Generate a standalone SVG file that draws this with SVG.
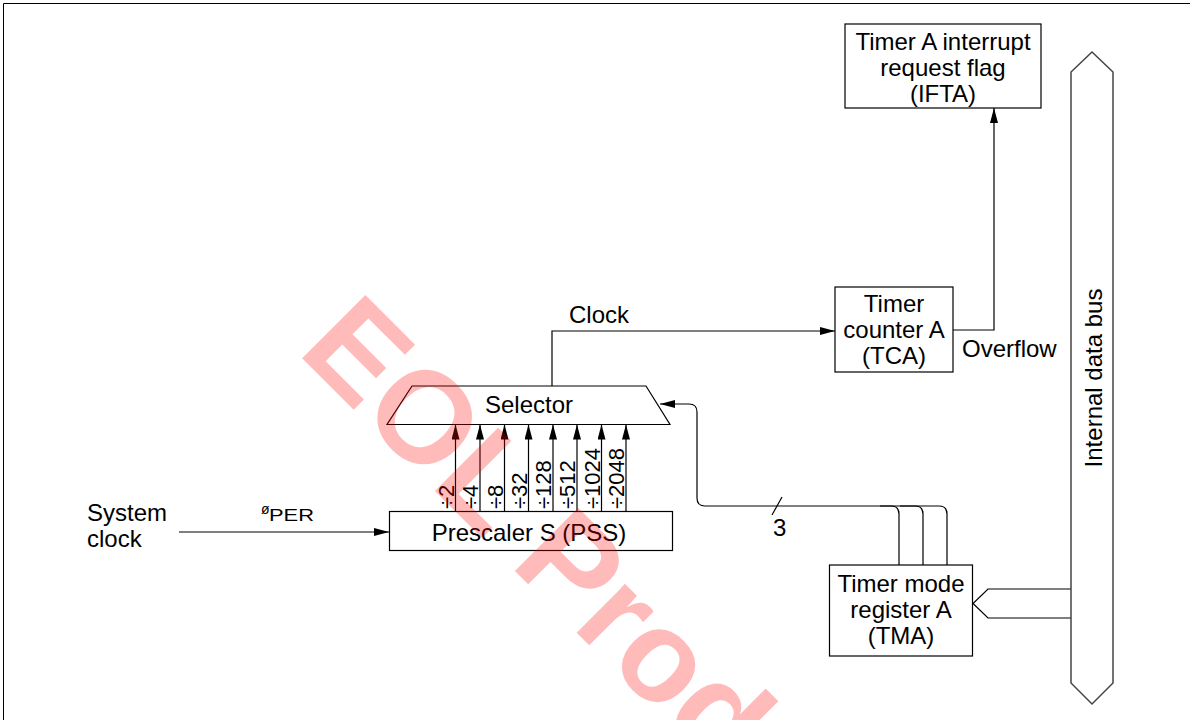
<svg xmlns="http://www.w3.org/2000/svg" width="1190" height="720" viewBox="0 0 1190 720">
<defs>
<marker id="ah" markerUnits="userSpaceOnUse" markerWidth="15" markerHeight="8" refX="15" refY="4" orient="auto">
<path d="M0,0 L15,4 L0,8 Z" fill="#000"/>
</marker>
<style>
.box{fill:#fff;stroke:#000;stroke-width:1.2}
.ln{fill:none;stroke:#000;stroke-width:1.2}
.arr{fill:none;stroke:#000;stroke-width:1.2;marker-end:url(#ah)}
.t{font-family:"Liberation Sans",Arial,sans-serif;font-size:24px;fill:#000}
.c{text-anchor:middle}
.d{font-family:"Liberation Sans",Arial,sans-serif;font-size:22px;fill:#000}
.wm{font-family:"Liberation Sans",Arial,sans-serif;font-size:130px;font-weight:bold;fill:#ff0000;fill-opacity:0.27}
</style>
</defs>
<rect width="1190" height="720" fill="#fff"/>
<path d="M3.5,720 V3.5 H1190" fill="none" stroke="#000" stroke-width="1"/>

<g id="connectors">
<path class="arr" d="M179,532 H389"/>
<path class="arr" d="M455.5,511.5 V424.5"/>
<path class="arr" d="M480,511.5 V424.5"/>
<path class="arr" d="M504.5,511.5 V424.5"/>
<path class="arr" d="M528.5,511.5 V424.5"/>
<path class="arr" d="M553,511.5 V424.5"/>
<path class="arr" d="M577,511.5 V424.5"/>
<path class="arr" d="M601.5,511.5 V424.5"/>
<path class="arr" d="M626,511.5 V424.5"/>
<path class="arr" d="M552,386 V331 H835"/>
<path class="arr" d="M953,330 H994 V108"/>
<path class="arr" d="M899,565 V514 Q899,506 891,506 H705 Q697,506 697,498 V412 Q697,404 689,404 H660"/>
<path class="ln" d="M923,565 V514 Q923,506 915,506 H880"/>
<path class="ln" d="M947,565 V514 Q947,506 939,506 H900"/>
<path class="ln" d="M772,515 L782,497"/>
<path class="ln" d="M1071,589 H988 L973,603.5 L988,618 H1071"/>
<text class="t" x="569" y="323">Clock</text>
<text class="t" x="962" y="357">Overflow</text>
<text class="t" x="773" y="536">3</text>
<text class="t" x="87" y="521">System</text>
<text class="t" x="87" y="547">clock</text>
<text x="261" y="514" style="font-family:'Liberation Sans',Arial,sans-serif;font-size:14px">ø</text>
<text x="269" y="521" textLength="45" lengthAdjust="spacingAndGlyphs" style="font-family:'Liberation Sans',Arial,sans-serif;font-size:16px">PER</text>
</g>

<g id="ifta">
<rect class="box" x="845" y="24" width="196" height="84"/>
<text class="t c" x="943" y="50">Timer A interrupt</text>
<text class="t c" x="943" y="76">request flag</text>
<text class="t c" x="943" y="102">(IFTA)</text>
</g>

<g id="tca">
<rect class="box" x="835" y="287" width="118" height="85"/>
<text class="t c" x="894" y="312">Timer</text>
<text class="t c" x="894" y="338">counter A</text>
<text class="t c" x="894" y="364">(TCA)</text>
</g>

<g id="selector">
<polygon class="box" points="412,386 646,386 670,424.5 387,424.5"/>
<text class="t c" x="529" y="413">Selector</text>
</g>

<g id="prescaler">
<rect class="box" x="389.5" y="511.5" width="283" height="39"/>
<text class="t c" x="529" y="541">Prescaler S (PSS)</text>
<text class="d" transform="translate(453.5,509) rotate(-90)">÷2</text>
<text class="d" transform="translate(478,509) rotate(-90)">÷4</text>
<text class="d" transform="translate(502.5,509) rotate(-90)">÷8</text>
<text class="d" transform="translate(526.5,509) rotate(-90)">÷32</text>
<text class="d" transform="translate(551,509) rotate(-90)">÷128</text>
<text class="d" transform="translate(575,509) rotate(-90)">÷512</text>
<text class="d" transform="translate(599.5,509) rotate(-90)">÷1024</text>
<text class="d" transform="translate(624,509) rotate(-90)">÷2048</text>
</g>

<g id="tma">
<rect class="box" x="829.5" y="565" width="143" height="91"/>
<text class="t c" x="901" y="592">Timer mode</text>
<text class="t c" x="901" y="618">register A</text>
<text class="t c" x="901" y="644">(TMA)</text>
</g>

<g id="bus">
<polygon points="1092,52 1113,72 1113,683 1092,704 1071,683 1071,72" fill="#fff" stroke="#444" stroke-width="1.5"/>
<text class="t c" transform="translate(1102,378) rotate(-90)">Internal data bus</text>
</g>

<text class="wm" transform="translate(296,352) rotate(45)">EOL Prod</text>
</svg>
